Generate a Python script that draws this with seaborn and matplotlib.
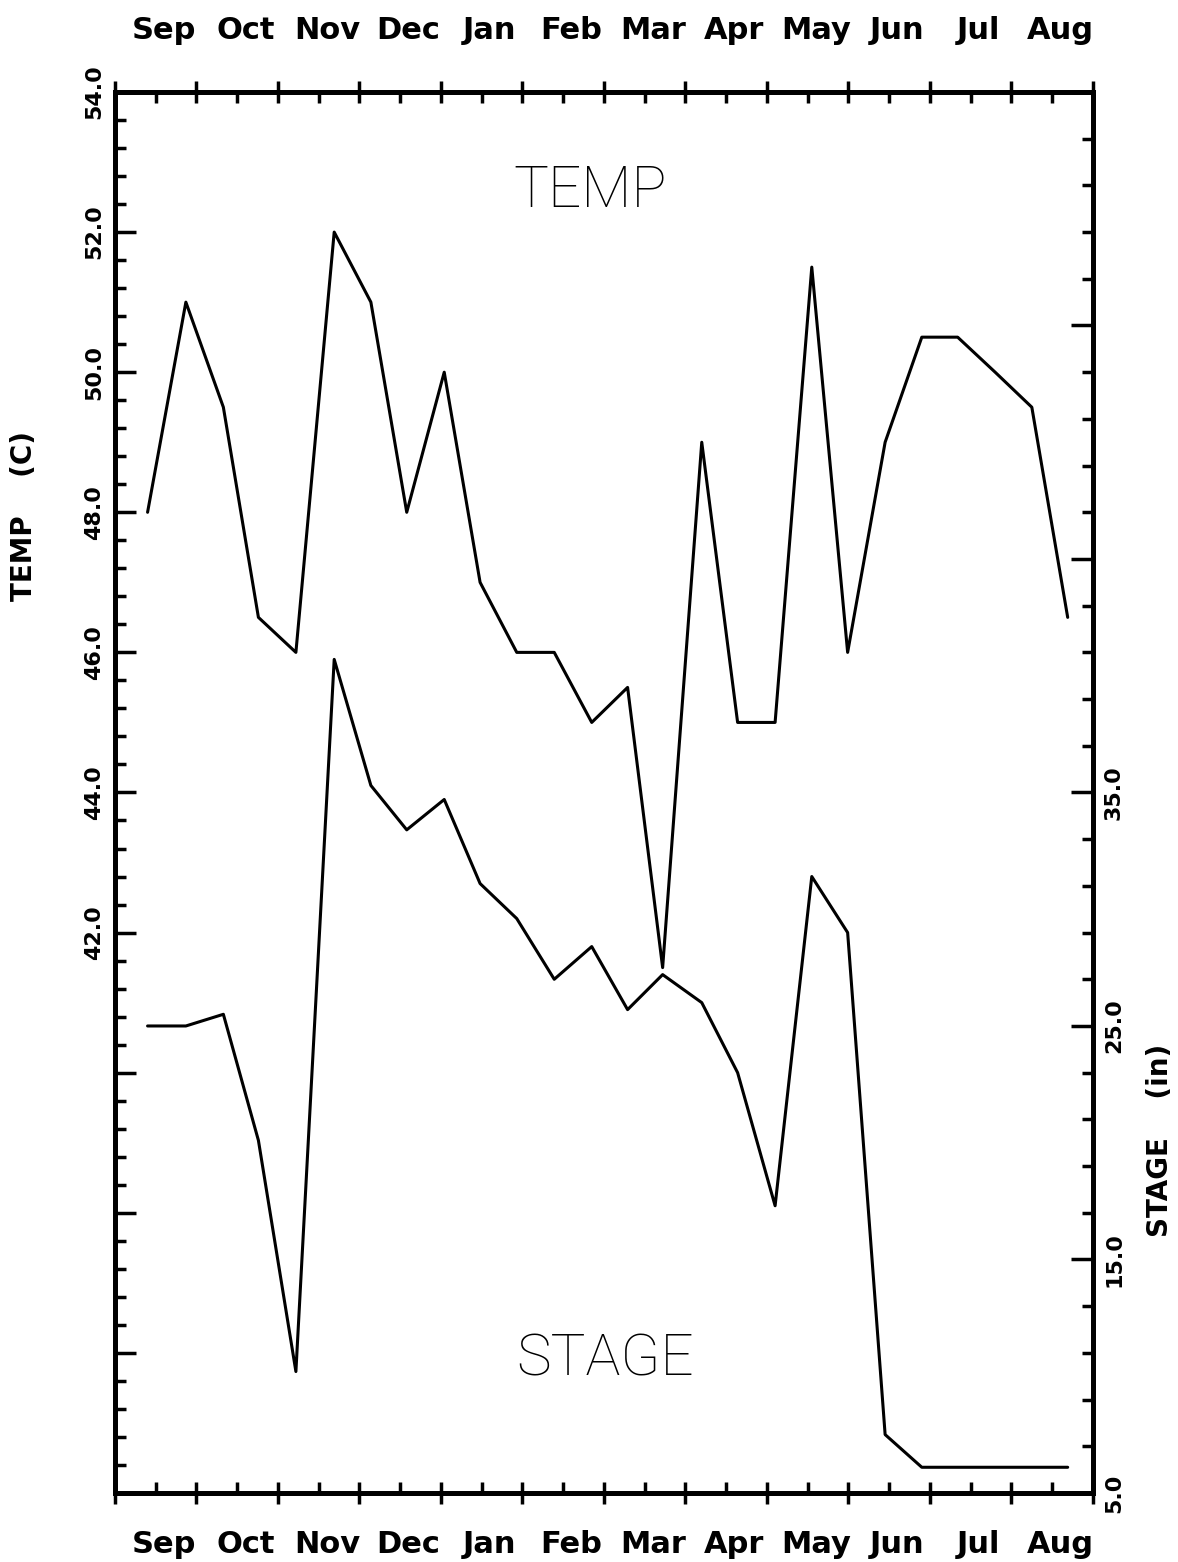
import numpy as np
import pandas as pd
import matplotlib
matplotlib.use("Agg")
import matplotlib.pyplot as plt
import matplotlib.transforms as mtransforms
from matplotlib.ticker import MultipleLocator, FixedLocator
import seaborn as sns

# Water-year months, starting in September
months = ["Sep", "Oct", "Nov", "Dec", "Jan", "Feb",
          "Mar", "Apr", "May", "Jun", "Jul", "Aug"]

# Sampling times, in months elapsed since 1 September (roughly biweekly)
sample_month = [0.40, 0.87, 1.33, 1.76, 2.22, 2.69, 3.14, 3.58, 4.04, 4.48,
                4.93, 5.39, 5.85, 6.29, 6.72, 7.20, 7.64, 8.10, 8.55, 8.99,
                9.45, 9.90, 10.34, 10.80, 11.25, 11.69]

# Water temperature (left axis)
temp_c = [48.0, 51.0, 49.5, 46.5, 46.0, 52.0, 51.0, 48.0, 50.0, 47.0,
          46.0, 46.0, 45.0, 45.5, 41.5, 49.0, 45.0, 45.0, 51.5, 46.0,
          49.0, 50.5, 50.5, 50.0, 49.5, 46.5]

# River stage in inches (right axis)
stage_in = [25.0, 25.0, 25.5, 20.1, 10.2, 40.7, 35.3, 33.4, 34.7, 31.1,
            29.6, 27.0, 28.4, 25.7, 27.2, 26.0, 23.0, 17.3, 31.4, 29.0,
            7.5, 6.1, 6.1, 6.1, 6.1, 6.1]

# Axis ranges and which major ticks carry a label
temp_range = (34, 54)
temp_labeled = [42, 44, 46, 48, 50, 52, 54]
stage_range = (5, 65)
stage_labeled = [5, 15, 25, 35]

df = pd.DataFrame({"month": sample_month, "temp": temp_c, "stage": stage_in})

sns.set_style("ticks")
plt.rcParams["font.family"] = ["DejaVu Sans"]
plt.rcParams.update({"text.color": "black", "axes.labelcolor": "black",
                     "xtick.color": "black", "ytick.color": "black"})

fig = plt.figure(figsize=(11.78, 15.62), dpi=100)
fig.patch.set_facecolor("white")
ax = fig.add_axes([0.0976, 0.0442, 0.8302, 0.8969])

sns.lineplot(data=df, x="month", y="temp", ax=ax, color="black",
             linewidth=2.2, sort=False)
ax2 = ax.twinx()
sns.lineplot(data=df, x="month", y="stage", ax=ax2, color="black",
             linewidth=2.2, sort=False)

ax.set_xlim(0, 12)
ax.set_ylim(*temp_range)
ax2.set_ylim(*stage_range)

# x axis: month boundaries (major) and mid-months (minor), no tick labels
ax.xaxis.set_major_locator(MultipleLocator(1))
ax.xaxis.set_minor_locator(MultipleLocator(0.5))
ax.tick_params(axis="x", which="major", direction="inout", length=16,
               width=2.5, top=True, bottom=True,
               labelbottom=False, labeltop=False)
ax.tick_params(axis="x", which="minor", direction="in", length=8,
               width=2.5, top=True, bottom=True)
ax.set_xlabel("")

# left axis: temperature
tmaj = np.arange(temp_range[0], temp_range[1] + 0.1, 2)
ax.set_yticks(tmaj, labels=[f"{v:.1f}" if v in temp_labeled else "" for v in tmaj],
              rotation=90, va="center", fontsize=16, fontweight="bold")
ax.yaxis.set_minor_locator(MultipleLocator(0.4))
ax.tick_params(axis="y", which="major", direction="in", length=15, width=2.5,
               left=True, right=False, pad=8)
ax.tick_params(axis="y", which="minor", direction="in", length=8, width=2.5,
               left=True, right=False)
ax.set_ylabel("TEMP    (C)", fontsize=20, fontweight="bold", rotation=90)
ax.yaxis.set_label_coords(-0.079, 0.697)

# right axis: stage
smaj = np.arange(stage_range[0], stage_range[1] + 0.1, 10)
ax2.set_yticks(smaj, labels=[f"{v:.1f}" if v in stage_labeled else "" for v in smaj],
               rotation=90, va="center", fontsize=16, fontweight="bold")
ax2.yaxis.set_minor_locator(FixedLocator(np.arange(stage_range[0], stage_range[1] + 0.1, 2)))
ax2.tick_params(axis="y", which="major", direction="in", length=16, width=2.5,
                right=True, left=False, pad=8)
ax2.tick_params(axis="y", which="minor", direction="in", length=8, width=2.5,
                right=True, left=False)
ax2.set_ylabel("STAGE    (in)", fontsize=20, fontweight="bold", rotation=90)
ax2.yaxis.set_label_coords(1.054, 0.252)

for a in (ax, ax2):
    for sp in a.spines.values():
        sp.set_visible(True)
        sp.set_linewidth(3.5)
        sp.set_color("black")

# month names above and below the frame
trans = mtransforms.blended_transform_factory(ax.transData, ax.transAxes)
for i, name in enumerate(months):
    ax.text(i + 0.6, 1.044, name, transform=trans, ha="center", va="center",
            fontsize=22, fontweight="bold")
    ax.text(i + 0.6, -0.037, name, transform=trans, ha="center", va="center",
            fontsize=22, fontweight="bold")

# series titles inside the plot
ax.text(0.486, 0.929, "TEMP", transform=ax.transAxes, ha="center", va="center",
        fontsize=42, family=["Roboto", "DejaVu Sans"], fontweight="light")
ax.text(0.501, 0.095, "STAGE", transform=ax.transAxes, ha="center", va="center",
        fontsize=42, family=["Roboto", "DejaVu Sans"], fontweight="light")

fig.savefig("out.png", dpi=100, facecolor="white")
